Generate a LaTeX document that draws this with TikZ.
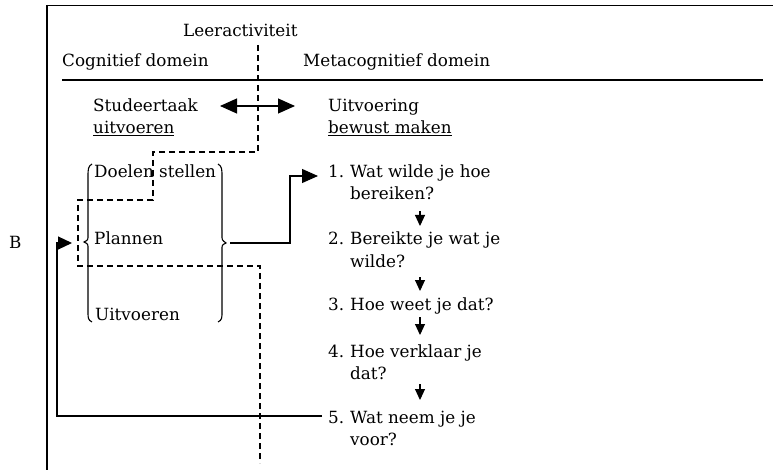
\documentclass[tikz,border=0pt]{standalone}
\usepackage{fontspec}
\setmainfont{DejaVu Serif}
\usetikzlibrary{arrows.meta}
\begin{document}
\begin{tikzpicture}[x=1pt,y=-1pt,
  txt/.style={inner sep=0pt, anchor=base west, font=\fontsize{16.8}{22}\selectfont},
  rule/.style={line width=1.1pt},
  flow/.style={line width=1.1pt},
  guide/.style={line width=1.1pt, dash pattern=on 6pt off 4pt},
  bigtip/.style={-{Triangle[length=16pt,width=14pt]}},
  sidetip/.style={-{Triangle[length=14pt,width=13pt]}},
  smalltip/.style={-{Triangle[length=11pt,width=10pt]}},
  twotip/.style={{Triangle[length=17pt,width=15pt]}-{Triangle[length=17pt,width=15pt]}},
]
\useasboundingbox (0,0) rectangle (773,470);

% frame and header rule
\draw[line width=1.3pt] (47,5) -- (47,470);
\draw[line width=0.8pt] (47,5) -- (773,5);
\draw[rule] (62,80) -- (763,80);

% headings
\node[txt] (act)  at (183,37) {Leeractiviteit};
\node[txt] (cog)  at (62,67)  {Cognitief domein};
\node[txt] (meta) at (303,67) {Metacognitief domein};

% the two tasks
\node[txt] (task) at (93,112) {\begin{tabular}[t]{@{}l@{}}Studeertaak\\\underline{uitvoeren}\end{tabular}};
\node[txt] (aware) at (328,112) {\begin{tabular}[t]{@{}l@{}}Uitvoering\\\underline{bewust maken}\end{tabular}};
\coordinate (dl) at (220,106);
\coordinate (dr) at (295,106);
\draw[flow,twotip] (dl) -- (dr);

% cognitive steps between braces
\node[txt] (goals) at (94,178) {Doelen stellen};
\node[txt] (plan)  at (94,245) {Plannen};
\node[txt] (exec)  at (95,320) {Uitvoeren};
\coordinate (lb) at (84,242);
\coordinate (rb) at (226,243);
\draw[line width=1.1pt] (92,164) .. controls (88,166) and (88,170) .. (88,176)
  -- (88,236) .. controls (88,240) .. (lb) .. controls (88,244) .. (88,248)
  -- (88,312) .. controls (88,318) and (88,320) .. (92,322);
\draw[line width=1.1pt] (218,164) .. controls (222,166) and (222,170) .. (222,176)
  -- (222,236) .. controls (222,240) .. (rb) .. controls (222,245) .. (222,249)
  -- (222,312) .. controls (222,318) and (222,320) .. (218,322);

% B
\node[txt] (b) at (9,248) {B};

% metacognitive questions
\node[txt] (q1) at (328,178) {\begin{tabular}[t]{@{}p{22pt}@{}l@{}}1.&Wat wilde je hoe\\&bereiken?\end{tabular}};
\node[txt] (q2) at (328,245) {\begin{tabular}[t]{@{}p{22pt}@{}l@{}}2.&Bereikte je wat je\\&wilde?\end{tabular}};
\node[txt] (q3) at (328,310) {\begin{tabular}[t]{@{}p{22pt}@{}l@{}}3.&Hoe weet je dat?\end{tabular}};
\node[txt] (q4) at (328,357) {\begin{tabular}[t]{@{}p{22pt}@{}l@{}}4.&Hoe verklaar je\\&dat?\end{tabular}};
\node[txt] (q5) at (328,423) {\begin{tabular}[t]{@{}p{22pt}@{}l@{}}5.&Wat neem je je\\&voor?\end{tabular}};

% arrows between the questions
\coordinate (s1) at (420,211); \coordinate (e1) at (420,226);
\coordinate (s2) at (420,277); \coordinate (e2) at (420,291);
\coordinate (s3) at (420,317); \coordinate (e3) at (420,335);
\coordinate (s4) at (420,384); \coordinate (e4) at (420,400);
\draw[flow,smalltip] (s1) -- (e1);
\draw[flow,smalltip] (s2) -- (e2);
\draw[flow,smalltip] (s3) -- (e3);
\draw[flow,smalltip] (s4) -- (e4);

% planning feeds question 1, question 5 feeds back to the steps
\coordinate (q1in) at (318,176);
\coordinate (q5out) at (322,416);
\coordinate (bin) at (72,243);
\draw[flow,bigtip] (rb) ++(4,0) -- (290,243) |- (q1in);
\draw[flow,sidetip] (q5out) -- (57,416) |- (bin);

% boundary of the learning activity
\draw[guide] (258,45) -- (258,152) -- (153,152) -- (153,200) -- (78,200)
  -- (78,266) -- (260,266) -- (260,463);
\end{tikzpicture}
\end{document}
